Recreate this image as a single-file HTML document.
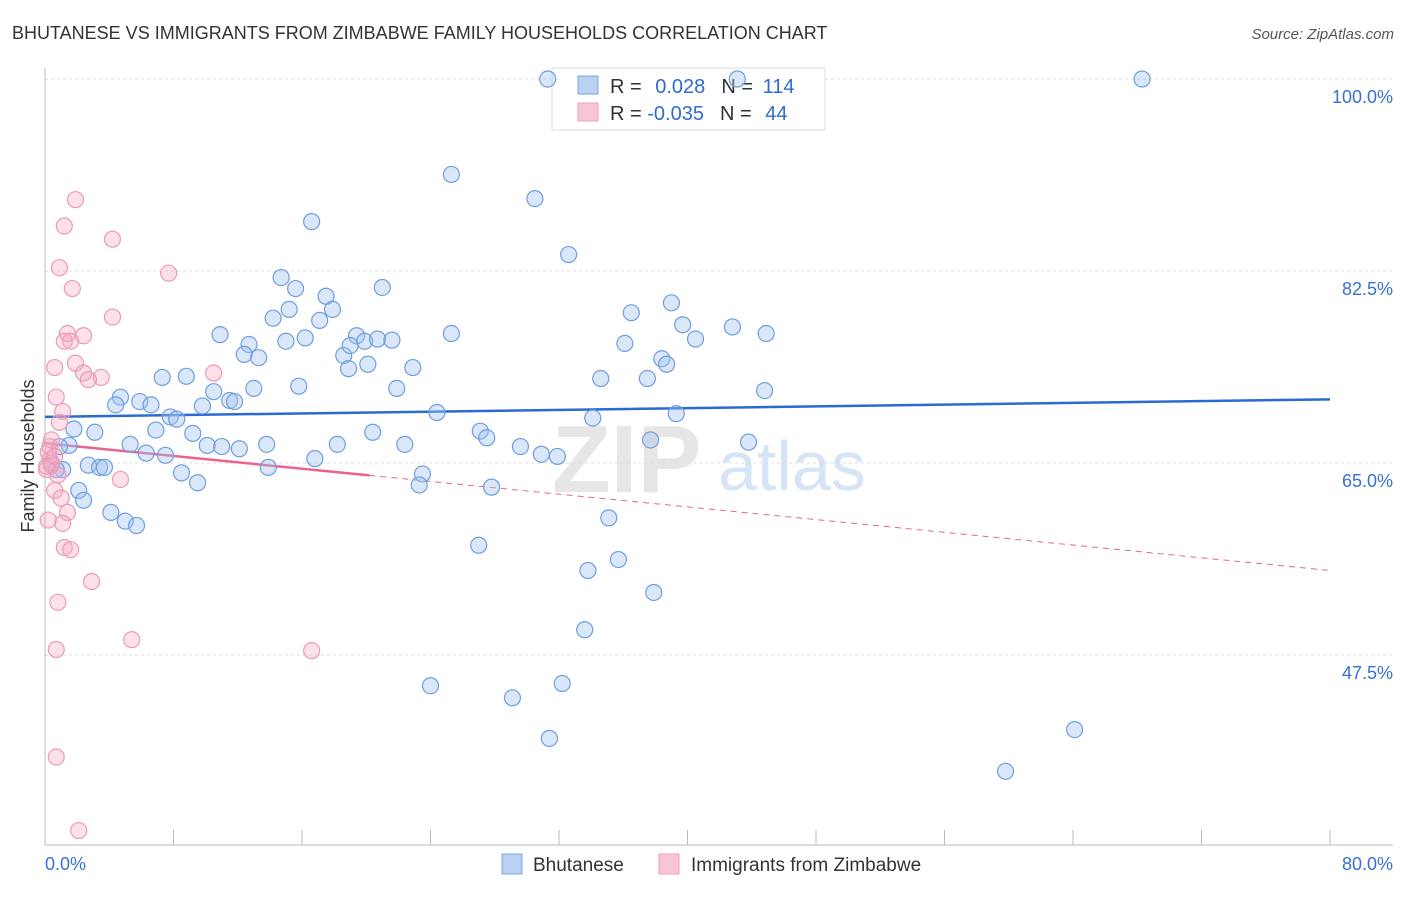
<!DOCTYPE html>
<html><head><meta charset="utf-8"><style>
body{margin:0;background:#fff;font-family:"Liberation Sans",sans-serif}
svg text{font-family:"Liberation Sans",sans-serif}
</style></head><body>
<svg id="chart" width="1406" height="892" xmlns="http://www.w3.org/2000/svg">
<text x="12" y="39" font-size="18" fill="#333">BHUTANESE VS IMMIGRANTS FROM ZIMBABWE FAMILY HOUSEHOLDS CORRELATION CHART</text>
<text x="1394" y="39" font-size="15" fill="#555" text-anchor="end" font-style="italic">Source: ZipAtlas.com</text>
<text x="552" y="492" font-size="96" fill="#e6e6e6" font-family="Liberation Serif" font-weight="bold">ZIP</text>
<text x="718" y="490" font-size="70" fill="#d6e4f5">atlas</text>
<g id="grid"></g><g id="axes"></g>
<g>
<rect x="552" y="68" width="273" height="62" fill="#fff" stroke="#ddd"/>
<rect x="578" y="76" width="20" height="18" fill="#b8d2f4" stroke="#7aa6e0"/>
<rect x="578" y="103" width="20" height="18" fill="#f9c6d6" stroke="#eea0b8"/>
<text x="610" y="93" font-size="20" fill="#333">R = <tspan fill="#2f6bd0" dx="8">0.028</tspan><tspan dx="16" fill="#333">N = </tspan><tspan fill="#2f6bd0" dx="4">114</tspan></text>
<text x="610" y="120" font-size="20" fill="#333">R = <tspan fill="#2f6bd0">-0.035</tspan><tspan dx="16" fill="#333">N = </tspan><tspan fill="#2f6bd0" dx="8">44</tspan></text>
</g>
<g id="trend"></g><g id="pts"></g>
<text transform="translate(34,456) rotate(-90)" font-size="18" fill="#333" text-anchor="middle">Family Households</text>
<g>
<rect x="502" y="854" width="20" height="20" fill="#b8d2f4" stroke="#7aa6e0"/>
<text x="533" y="871" font-size="19" fill="#333">Bhutanese</text>
<rect x="659" y="854" width="20" height="20" fill="#f9c6d6" stroke="#eea0b8"/>
<text x="691" y="871" font-size="19" fill="#333">Immigrants from Zimbabwe</text>
</g>
</svg>
<script>
const blueX=[31.3,43.1,68.3,25.3,30.5,16.6,32.6,14.7,15.6,17.5,21.0,14.2,15.2,17.9,17.1,10.9,12.7,15.0,16.2,12.4,13.3,19.4,19.9,20.7,21.6,25.3,18.6,19.0,20.1,18.9,22.9,21.9,15.8,13.0,10.5,11.5,11.8,7.3,8.8,4.7,4.4,5.9,6.6,9.8,7.8,8.2,6.9,9.2,10.1,11.0,12.1,13.8,18.2,20.4,22.4,24.4,27.1,27.5,29.6,30.9,31.9,5.3,6.3,7.5,16.8,13.9,8.5,9.5,23.5,23.3,27.8,1.5,1.8,3.1,0.9,0.4,1.1,2.7,3.4,3.7,2.1,2.4,4.1,5.0,5.7,27.0,35.1,33.8,35.7,37.9,33.6,24.0,29.1,32.2,31.4,59.8,64.1,36.5,39.0,39.7,40.5,42.8,44.9,36.1,38.4,38.7,34.6,37.5,44.8,34.1,39.3,37.7,43.8,0.7];
const blueY=[100,100,100,91.3,89.1,87.0,84.0,81.9,80.9,80.2,81.0,78.2,79.0,79.0,78.0,76.7,75.8,76.1,76.4,74.9,74.6,76.6,76.1,76.3,76.2,76.8,74.8,75.7,74.0,73.6,73.7,71.8,72.0,71.8,71.5,70.7,70.6,72.8,72.9,71.0,70.3,70.6,70.3,70.2,69.2,69.0,68.0,67.7,66.6,66.5,66.3,66.7,66.7,67.8,66.7,69.6,67.9,67.3,66.5,65.8,65.6,66.7,65.9,65.7,65.4,64.6,64.1,63.2,64.0,63.0,62.8,66.6,68.1,67.8,66.5,65.0,64.4,64.8,64.6,64.6,62.5,61.6,60.5,59.7,59.3,57.5,60.0,55.2,56.2,53.2,49.8,44.7,43.6,44.9,39.9,36.9,40.7,78.7,79.6,77.6,76.3,77.4,76.8,75.9,74.5,74.0,72.7,72.7,71.6,69.1,69.5,67.1,66.9,64.4];
const pinkX=[1.9,1.2,4.2,0.9,1.7,7.7,4.2,1.4,2.4,1.2,1.6,0.6,1.9,2.4,3.5,2.7,10.5,0.7,1.1,0.9,0.3,0.2,0.3,0.4,0.1,0.8,0.6,1.0,1.4,1.1,0.2,1.2,1.6,2.9,0.8,5.4,0.7,16.6,0.7,2.1,4.7,0.4,0.1,0.6];
const pinkY=[89.0,86.6,85.4,82.8,80.9,82.3,78.3,76.8,76.6,76.1,76.1,73.7,74.1,73.2,72.8,72.6,73.2,71.0,69.7,68.7,66.5,66.0,65.3,64.8,64.4,63.9,62.5,61.8,60.5,59.5,59.8,57.3,57.1,54.2,52.3,48.9,48.0,47.9,38.2,31.5,63.5,67.1,64.7,65.6];
const blueTrend=[69.2,70.8];
const pinkTrend=[66.8,55.2];
const yTicks=[100,82.5,65,47.5];
const yTickLabels=["100.0%","82.5%","65.0%","47.5%"];
const xLabels=["0.0%","80.0%"];
const NS="http://www.w3.org/2000/svg";
const sx=v=>45+v*1285/80, sy=v=>79+(100-v)*192/17.5;
function mk(t,a,p){const e=document.createElementNS(NS,t);for(const k in a)e.setAttribute(k,a[k]);document.getElementById(p).appendChild(e);return e;}
yTicks.forEach((t,i)=>{
 const l=mk('line',{x1:45,x2:1393,y1:sy(t),y2:sy(t),stroke:'#ddd','stroke-dasharray':'3,3'},'grid');
 
 
 const tx=mk('text',{x:1393,y:sy(t)+24,'font-size':18,fill:'#3b6fd4','text-anchor':'end'},'grid');
 tx.textContent=yTickLabels[i];
 
 
});
let a=mk('line',{x1:45,x2:45,y1:68,y2:845,stroke:'#bbb'},'axes');


a=mk('line',{x1:45,x2:1393,y1:845,y2:845,stroke:'#bbb'},'axes');


for(let i=0;i<=10;i++){const t=mk('line',{x1:sx(i*8),x2:sx(i*8),y1:830,y2:845,stroke:'#bbb'},'axes');
 
 }
let xl=mk('text',{x:45,y:870,'font-size':18,fill:'#3b6fd4'},'axes');xl.textContent=xLabels[0];


xl=mk('text',{x:1393,y:870,'font-size':18,fill:'#3b6fd4','text-anchor':'end'},'axes');xl.textContent=xLabels[1];


function pts(X,Y,fill,stroke,name){X.forEach((x,i)=>{const c=mk('circle',{cx:sx(x),cy:sy(Y[i]),r:8,fill:fill,stroke:stroke,'stroke-width':1.2},'pts');
 
 });}
pts(blueX,blueY,'rgba(160,196,240,0.4)','#6f9ee0','bhutanese-point');
pts(pinkX,pinkY,'rgba(245,170,195,0.35)','#eb9ab5','zimbabwe-point');
let t=mk('line',{x1:sx(0),y1:sy(blueTrend[0]),x2:sx(80),y2:sy(blueTrend[1]),stroke:'#2a6bd1','stroke-width':2.5},'trend');


const pk=x=>pinkTrend[0]+(pinkTrend[1]-pinkTrend[0])*x/80;
t=mk('line',{x1:sx(0),y1:sy(pk(0)),x2:sx(20.2),y2:sy(pk(20.2)),stroke:'#e8648f','stroke-width':2.5},'trend');


t=mk('line',{x1:sx(20.2),y1:sy(pk(20.2)),x2:sx(80),y2:sy(pk(80)),stroke:'#e8648f','stroke-width':1,'stroke-dasharray':'6,5'},'trend');


</script>
</body></html>
